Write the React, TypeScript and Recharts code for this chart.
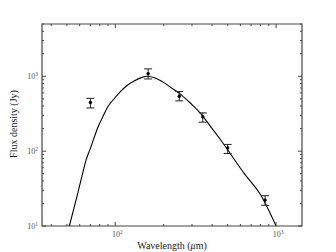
import { ComposedChart, Line, Scatter, ErrorBar, XAxis, YAxis, ReferenceArea } from 'recharts';

// observed photometry (μm, Jy) with [lower, upper] errors
const obsWavelength = [70, 160, 250, 350, 500, 855];
const obsFlux = [446, 1087, 541, 288, 110, 22.2];
const obsErrLow = [68, 165, 71, 44, 17, 3.3];
const obsErrHigh = [62, 170, 84, 37, 13, 3.2];

// fitted SED curve
const fitWavelength = [51.8, 58.4, 61.9, 65.8, 70, 74.1, 78.4, 83.5, 89.7, 98.6, 108, 119, 131, 145, 159, 175, 192, 222, 256, 295, 340, 400, 454, 538, 633, 803, 1000];
const fitFlux = [10, 27.3, 45.4, 75.9, 109, 155, 215, 286, 389, 505, 631, 760, 865, 960, 1000, 955, 870, 707, 570, 433, 318, 200, 140, 83, 50.5, 25.9, 10];

const xTicks = [40, 50, 60, 70, 80, 90, 100, 200, 300, 400, 500, 600, 700, 800, 900, 1000];
const yTicks = [10, 20, 30, 40, 50, 60, 70, 80, 90, 100, 200, 300, 400, 500, 600, 700, 800, 900, 1000, 2000, 3000, 4000, 5000];

const obs = obsWavelength.map((wl, i) => ({ wl, flux: obsFlux[i], err: [obsErrLow[i], obsErrHigh[i]] }));
const fit = fitWavelength.map((wl, i) => ({ wl, flux: fitFlux[i] }));

const frame = '#444';
const font = '"Liberation Serif", "Times New Roman", serif';

const exp = (v: number) => Math.round(Math.log10(v));
const isMajor = (v: number) => Math.abs(Math.log10(v) - exp(v)) < 1e-9;

function Pow({ x, y, v, anchor }: { x: number; y: number; v: number; anchor: 'middle' | 'end' }) {
  return (
    <text x={x} y={y} textAnchor={anchor} fontFamily={font} fontSize={8} fill="#555">
      10<tspan dy={-3.5} fontSize={5.5}>{exp(v)}</tspan>
    </text>
  );
}

// matplotlib-style inward ticks, labels only on decades
const BottomTick = (props: any) => {
  const { x, y, payload } = props;
  const major = isMajor(payload.value);
  return (
    <g>
      <line x1={x} x2={x} y1={y} y2={y - (major ? 4 : 2)} stroke={frame} strokeWidth={1} />
      {major && <Pow x={x + 2} y={y + 11} v={payload.value} anchor="middle" />}
    </g>
  );
};

const TopTick = (props: any) => {
  const { x, y, payload } = props;
  const major = isMajor(payload.value);
  return <line x1={x} x2={x} y1={y} y2={y + (major ? 4 : 2)} stroke={frame} strokeWidth={1} />;
};

const LeftTick = (props: any) => {
  const { x, y, payload } = props;
  const major = isMajor(payload.value);
  return (
    <g>
      <line x1={x} x2={x + (major ? 4 : 2)} y1={y} y2={y} stroke={frame} strokeWidth={1} />
      {major && <Pow x={x - 4} y={y + 3} v={payload.value} anchor="end" />}
    </g>
  );
};

const RightTick = (props: any) => {
  const { x, y, payload } = props;
  const major = isMajor(payload.value);
  return <line x1={x} x2={x - (major ? 4 : 2)} y1={y} y2={y} stroke={frame} strokeWidth={1} />;
};

const Dot = (props: any) => <circle cx={props.cx} cy={props.cy} r={1.7} fill="#000" />;

export default function App() {
  return (
    <div style={{ position: 'fixed', left: 0, top: 0, background: '#fff' }}>
      <ComposedChart width={336} height={252} margin={{ top: 23, right: 33, bottom: 0, left: 0 }}>
        <XAxis
          xAxisId="b"
          dataKey="wl"
          type="number"
          scale="log"
          domain={[35, 1450]}
          allowDataOverflow
          ticks={xTicks}
          interval={0}
          height={26}
          tickSize={0}
          tickMargin={0}
          tickLine={false}
          tick={<BottomTick />}
          axisLine={false}
          label={{
            content: (p: any) => {
              const vb = p.viewBox;
              return (
                <text x={vb.x + vb.width / 2} y={vb.y + vb.height - 3} textAnchor="middle" fontFamily={font} fontSize={10} fill="#222">
                  Wavelength (<tspan fontStyle="italic">μ</tspan>m)
                </text>
              );
            },
          }}
        />
        <XAxis
          xAxisId="t"
          orientation="top"
          dataKey="wl"
          type="number"
          scale="log"
          domain={[35, 1450]}
          allowDataOverflow
          ticks={xTicks}
          interval={0}
          height={1}
          tickSize={0}
          tickMargin={0}
          tickLine={false}
          tick={<TopTick />}
          axisLine={false}
        />
        <YAxis
          yAxisId="l"
          type="number"
          scale="log"
          domain={[10, 5000]}
          allowDataOverflow
          ticks={yTicks}
          interval={0}
          width={42}
          tickSize={0}
          tickMargin={0}
          tickLine={false}
          tick={<LeftTick />}
          axisLine={false}
          label={{
            content: () => (
              <text x={0} y={0} transform="translate(17,124) rotate(-90)" textAnchor="middle" fontFamily={font} fontSize={10} fill="#222">
                Flux density (Jy)
              </text>
            ),
          }}
        />
        <YAxis
          yAxisId="r"
          orientation="right"
          type="number"
          scale="log"
          domain={[10, 5000]}
          allowDataOverflow
          ticks={yTicks}
          interval={0}
          width={1}
          tickSize={0}
          tickMargin={0}
          tickLine={false}
          tick={<RightTick />}
          axisLine={false}
        />
        <ReferenceArea
          xAxisId="b"
          yAxisId="l"
          x1={35}
          x2={1450}
          y1={10}
          y2={5000}
          fill="none"
          fillOpacity={0}
          stroke={frame}
          strokeWidth={1.2}
          strokeOpacity={1}
          ifOverflow="visible"
        />
        <Line
          xAxisId="b"
          yAxisId="l"
          data={fit}
          dataKey="flux"
          type="monotone"
          stroke="#000"
          strokeWidth={1.1}
          dot={false}
          isAnimationActive={false}
        />
        <Scatter xAxisId="b" yAxisId="l" data={obs} dataKey="flux" shape={<Dot />} isAnimationActive={false}>
          <ErrorBar dataKey="err" direction="y" width={4} stroke="#222" strokeWidth={1} isAnimationActive={false} />
        </Scatter>
      </ComposedChart>
    </div>
  );
}
